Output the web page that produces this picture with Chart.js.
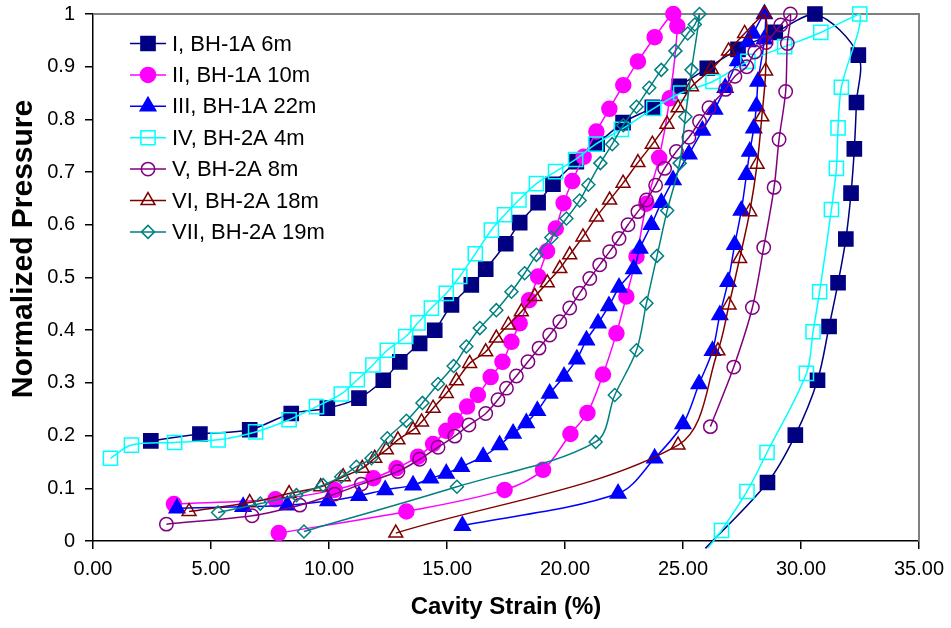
<!DOCTYPE html>
<html>
<head>
<meta charset="utf-8">
<script src="https://cdn.jsdelivr.net/npm/chart.js@4.4.1/dist/chart.umd.min.js"></script>
<style>
  html, body { margin: 0; padding: 0; background: #fff; }
  #wrap { width: 951px; height: 628px; position: relative; }
</style>
</head>
<body>
<div id="wrap"><canvas id="pressureChart"></canvas></div>
<script>
// Series I, BH-1A 6m
const s1x = [2.45, 4.53, 6.64, 8.40, 9.93, 11.27, 12.30, 13.00, 13.84, 14.48, 15.19, 16.03, 16.64, 17.49, 18.08, 18.86, 19.49, 20.48, 21.36, 22.46, 23.70, 24.84, 26.03, 27.33, 28.91, 30.59, 32.43, 32.35, 32.26, 32.12, 31.90, 31.57, 31.19, 30.70, 29.76, 28.58, 25.95];
const s1y = [0.190, 0.203, 0.211, 0.242, 0.252, 0.271, 0.305, 0.340, 0.375, 0.400, 0.448, 0.486, 0.516, 0.564, 0.604, 0.642, 0.677, 0.720, 0.753, 0.794, 0.823, 0.863, 0.897, 0.933, 0.965, 1.000, 0.922, 0.832, 0.744, 0.660, 0.573, 0.490, 0.407, 0.305, 0.201, 0.111, -0.014];
// Series II, BH-1A 10m
const s2x = [3.43, 7.73, 10.24, 11.88, 12.86, 13.77, 14.41, 14.97, 15.37, 15.85, 16.31, 16.85, 17.35, 17.73, 18.08, 18.48, 18.86, 19.24, 19.61, 19.94, 20.31, 20.79, 21.33, 21.88, 22.47, 23.09, 23.80, 24.59, 24.76, 24.44, 23.99, 23.45, 23.03, 22.60, 22.18, 21.61, 20.95, 20.23, 19.07, 17.44, 13.28, 7.87];
const s2y = [0.070, 0.079, 0.097, 0.119, 0.138, 0.160, 0.184, 0.209, 0.228, 0.255, 0.277, 0.311, 0.340, 0.378, 0.413, 0.457, 0.502, 0.550, 0.593, 0.641, 0.683, 0.729, 0.777, 0.820, 0.865, 0.910, 0.956, 1.000, 0.977, 0.840, 0.727, 0.640, 0.540, 0.464, 0.394, 0.316, 0.243, 0.203, 0.135, 0.097, 0.056, 0.015];
// Series III, BH-1A 22m
const s3x = [3.56, 6.36, 8.23, 9.96, 11.27, 12.38, 13.56, 14.30, 14.97, 15.61, 16.53, 17.23, 17.80, 18.36, 18.83, 19.35, 19.96, 20.50, 20.91, 21.40, 21.86, 22.29, 22.91, 23.17, 23.66, 24.08, 24.58, 25.25, 25.82, 26.34, 26.79, 27.32, 27.75, 27.97, 28.45, 28.45, 28.18, 28.11, 28.00, 27.83, 27.69, 27.47, 27.19, 26.91, 26.56, 26.25, 25.68, 25.00, 23.80, 22.25, 15.65];
const s3y = [0.062, 0.065, 0.068, 0.076, 0.086, 0.097, 0.106, 0.119, 0.128, 0.141, 0.160, 0.182, 0.204, 0.224, 0.247, 0.280, 0.312, 0.345, 0.381, 0.413, 0.446, 0.481, 0.516, 0.555, 0.600, 0.642, 0.685, 0.734, 0.779, 0.819, 0.860, 0.911, 0.947, 0.963, 1.000, 0.952, 0.872, 0.825, 0.783, 0.739, 0.695, 0.627, 0.562, 0.492, 0.429, 0.361, 0.298, 0.222, 0.157, 0.090, 0.029];
// Series IV, BH-2A 4m
const s4x = [0.74, 1.63, 3.46, 5.30, 6.89, 8.31, 9.47, 10.52, 11.20, 11.86, 12.47, 13.25, 13.77, 14.34, 14.97, 15.54, 16.20, 16.88, 17.44, 18.05, 18.79, 19.60, 20.45, 21.30, 22.39, 23.76, 24.90, 26.27, 27.75, 29.31, 30.84, 32.49, 31.71, 31.57, 31.50, 31.29, 30.79, 30.51, 30.23, 28.56, 27.71, 26.63, 26.06];
const s4y = [0.157, 0.182, 0.187, 0.192, 0.207, 0.230, 0.255, 0.279, 0.306, 0.334, 0.362, 0.388, 0.414, 0.442, 0.470, 0.502, 0.545, 0.590, 0.619, 0.647, 0.678, 0.701, 0.724, 0.753, 0.781, 0.821, 0.850, 0.872, 0.910, 0.938, 0.965, 1.000, 0.861, 0.784, 0.707, 0.629, 0.473, 0.397, 0.318, 0.168, 0.094, 0.020, -0.013];
// Series V, BH-2A 8m
const s5x = [3.11, 6.74, 8.76, 10.24, 11.37, 12.92, 13.84, 14.62, 15.33, 15.93, 16.64, 17.16, 17.52, 17.94, 18.43, 18.90, 19.35, 19.78, 20.20, 20.62, 21.05, 21.47, 21.89, 22.29, 22.67, 23.09, 23.45, 23.84, 24.22, 24.72, 25.25, 25.70, 26.10, 26.80, 27.20, 27.70, 28.04, 28.52, 29.14, 29.55, 29.42, 29.35, 29.07, 28.86, 28.42, 27.94, 27.15, 26.16];
const s5y = [0.032, 0.048, 0.068, 0.089, 0.108, 0.132, 0.155, 0.178, 0.199, 0.220, 0.242, 0.268, 0.290, 0.313, 0.340, 0.366, 0.391, 0.416, 0.442, 0.470, 0.498, 0.524, 0.549, 0.574, 0.600, 0.625, 0.647, 0.675, 0.707, 0.739, 0.766, 0.796, 0.822, 0.857, 0.882, 0.900, 0.928, 0.946, 0.979, 1.000, 0.944, 0.853, 0.762, 0.671, 0.557, 0.443, 0.330, 0.217];
// Series VI, BH-2A 18m
const s6x = [4.07, 6.64, 8.31, 9.65, 10.60, 11.41, 11.94, 12.43, 12.92, 13.56, 13.92, 14.41, 14.97, 15.40, 15.96, 16.64, 17.09, 17.60, 18.15, 18.72, 19.25, 19.78, 20.20, 20.76, 21.33, 21.89, 22.46, 23.09, 23.70, 24.32, 24.79, 25.36, 26.20, 26.93, 27.61, 28.46, 28.50, 28.34, 28.14, 27.83, 27.40, 26.95, 26.48, 24.79, 12.83];
const s6y = [0.056, 0.073, 0.090, 0.103, 0.122, 0.138, 0.157, 0.173, 0.192, 0.211, 0.226, 0.252, 0.280, 0.304, 0.337, 0.359, 0.385, 0.410, 0.435, 0.464, 0.490, 0.517, 0.543, 0.577, 0.615, 0.647, 0.679, 0.718, 0.753, 0.791, 0.822, 0.862, 0.895, 0.930, 0.963, 1.000, 0.892, 0.805, 0.715, 0.625, 0.536, 0.448, 0.361, 0.182, 0.015];
// Series VII, BH-2A 19m
const s7x = [5.30, 7.09, 8.62, 9.75, 10.52, 11.16, 11.80, 12.47, 13.28, 13.96, 14.62, 15.28, 15.82, 16.39, 17.09, 17.73, 18.29, 18.79, 19.42, 20.06, 20.62, 20.99, 21.50, 22.00, 22.47, 23.03, 23.57, 24.08, 24.68, 25.20, 25.50, 25.70, 25.36, 25.10, 24.86, 24.33, 23.90, 23.45, 23.03, 22.11, 21.30, 15.42, 8.94];
const s7y = [0.054, 0.071, 0.087, 0.106, 0.122, 0.141, 0.157, 0.195, 0.228, 0.262, 0.298, 0.332, 0.369, 0.404, 0.438, 0.473, 0.508, 0.543, 0.576, 0.612, 0.646, 0.676, 0.717, 0.753, 0.789, 0.824, 0.860, 0.894, 0.930, 0.963, 0.980, 1.000, 0.894, 0.805, 0.717, 0.627, 0.541, 0.451, 0.362, 0.277, 0.188, 0.103, 0.018];

const seriesNames = ['I, BH-1A 6m', 'II, BH-1A 10m', 'III, BH-1A 22m', 'IV, BH-2A 4m', 'V, BH-2A 8m', 'VI, BH-2A 18m', 'VII, BH-2A 19m'];
const xTickStep = 5;
const yTickStep = 0.1;

const FONT = '"Liberation Sans", Arial, sans-serif';

function pts(xs, ys) {
    return xs.map((x, i) => ({ x: x, y: ys[i] }));
}

// colour, marker, size, filled
const styles = [
    { color: '#000080', marker: 'rect', r: 10, filled: true },
    { color: '#FF00FF', marker: 'circle', r: 7.5, filled: true },
    { color: '#0000FF', marker: 'triangle', r: 9, filled: true },
    { color: '#00FFFF', marker: 'rect', r: 10, filled: false },
    { color: '#800080', marker: 'circle', r: 6.7, filled: false },
    { color: '#800000', marker: 'triangle', r: 8, filled: false },
    { color: '#008080', marker: 'rectRot', r: 6.5, filled: false }
];

const allData = [pts(s1x, s1y), pts(s2x, s2y), pts(s3x, s3y), pts(s4x, s4y), pts(s5x, s5y), pts(s6x, s6y), pts(s7x, s7y)];

const datasets = allData.map((d, i) => {
    const st = styles[i];
    return {
        label: seriesNames[i],
        data: d,
        showLine: true,
        tension: 0.33,
        borderColor: st.color,
        borderWidth: 1.5,
        pointStyle: st.marker,
        pointRadius: ctx => (ctx.raw && ctx.raw.y < 0 ? 0 : st.r),
        pointHoverRadius: st.r,
        pointBackgroundColor: st.filled ? st.color : 'rgba(0,0,0,0)',
        pointBorderColor: st.color,
        pointBorderWidth: 1.5,
        clip: false,
        order: -i
    };
});

// top/right frame of the plot area
const framePlugin = {
    id: 'frame',
    beforeDatasetsDraw(chart) {
        const a = chart.chartArea;
        const ctx = chart.ctx;
        ctx.save();
        ctx.strokeStyle = '#808080';
        ctx.lineWidth = 2;
        ctx.beginPath();
        ctx.moveTo(a.left, a.top);
        ctx.lineTo(a.right, a.top);
        ctx.lineTo(a.right, a.bottom);
        ctx.stroke();
        ctx.restore();
    }
};

// y axis title, sits a bit above the middle like the original
const yTitlePlugin = {
    id: 'yTitle',
    afterDraw(chart) {
        const ctx = chart.ctx;
        ctx.save();
        ctx.translate(23.5, 249);
        ctx.rotate(-Math.PI / 2);
        ctx.fillStyle = '#000';
        ctx.font = 'bold 30px ' + FONT;
        ctx.textAlign = 'center';
        ctx.textBaseline = 'middle';
        ctx.fillText('Normalized Pressure', 0, 0);
        ctx.restore();
    }
};

// Excel style legend: line + marker + text
const legendPlugin = {
    id: 'excelLegend',
    afterDraw(chart) {
        const ctx = chart.ctx;
        ctx.save();
        seriesNames.forEach((name, i) => {
            const st = styles[i];
            const y = 43.5 + i * 31.4;
            ctx.strokeStyle = st.color;
            ctx.lineWidth = 1.5;
            ctx.beginPath();
            ctx.moveTo(130, y);
            ctx.lineTo(166, y);
            ctx.stroke();
            ctx.fillStyle = st.filled ? st.color : 'rgba(0,0,0,0)';
            Chart.helpers.drawPoint(ctx, { pointStyle: st.marker, radius: st.r, rotation: 0, borderWidth: 1.5 }, 148, y);
            ctx.fillStyle = '#000';
            ctx.font = '22px ' + FONT;
            ctx.textBaseline = 'middle';
            ctx.fillText(name, 172, y + 1);
        });
        ctx.restore();
    }
};

const ctx = document.getElementById('pressureChart').getContext('2d');
new Chart(ctx, {
    type: 'scatter',
    data: { datasets: datasets },
    options: {
        responsive: true,
        maintainAspectRatio: false,
        animation: false,
        events: [],
        layout: { padding: { top: 14, right: 32, left: 0, bottom: 0 } },
        plugins: {
            legend: { display: false },
            tooltip: { enabled: false }
        },
        scales: {
            x: {
                type: 'linear',
                min: 0,
                max: 35,
                afterFit: s => { s.height = 87; s.paddingLeft = 0; s.paddingRight = 0; },
                ticks: {
                    stepSize: xTickStep,
                    color: '#000',
                    padding: 8,
                    font: { family: FONT, size: 20 },
                    callback: v => v.toFixed(2)
                },
                grid: { drawOnChartArea: false, drawTicks: true, tickLength: 8, color: '#000', lineWidth: 1.5 },
                border: { color: '#000', width: 1.5 },
                title: {
                    display: true,
                    text: 'Cavity Strain (%)',
                    color: '#000',
                    font: { family: FONT, size: 24, weight: 'bold' },
                    padding: { top: 0, bottom: 6 }
                }
            },
            y: {
                min: 0,
                max: 1,
                afterFit: s => { s.width = 93; s.paddingTop = 0; s.paddingBottom = 0; },
                ticks: {
                    stepSize: yTickStep,
                    color: '#000',
                    padding: 10,
                    font: { family: FONT, size: 20 },
                    callback: v => String(+v.toFixed(1))
                },
                grid: { drawOnChartArea: false, drawTicks: true, tickLength: 8, color: '#000', lineWidth: 1.5 },
                border: { color: '#000', width: 1.5 },
                title: { display: false }
            }
        }
    },
    plugins: [framePlugin, legendPlugin, yTitlePlugin]
});
</script>
</body>
</html>
